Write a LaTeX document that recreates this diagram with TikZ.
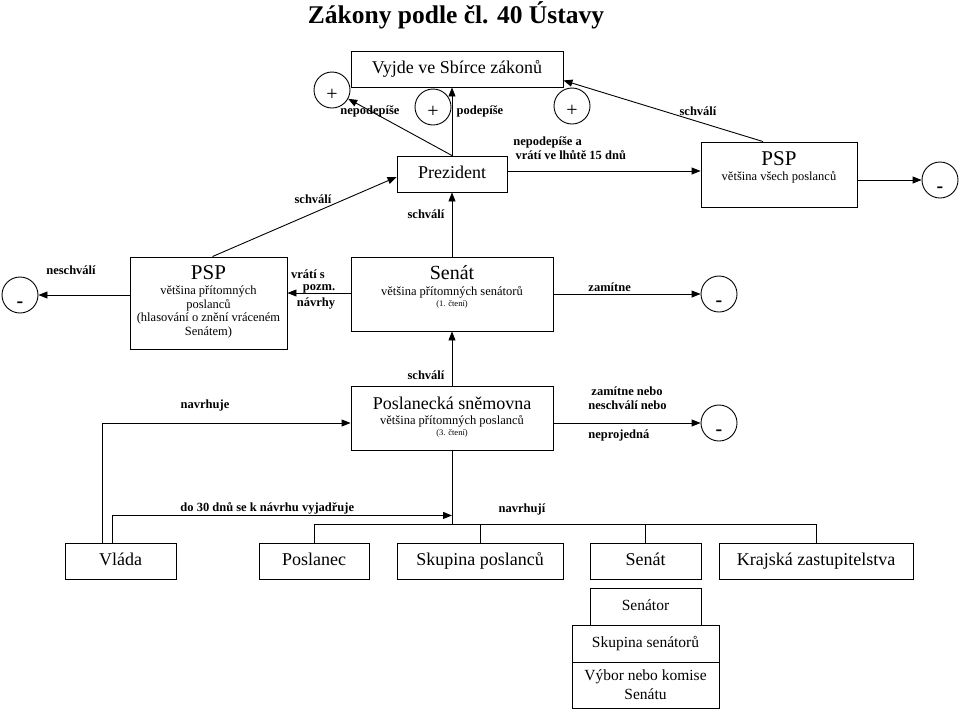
\documentclass[tikz,border=0pt]{standalone}
\usepackage{fontspec}
\setmainfont{Liberation Serif}
\usetikzlibrary{arrows.meta,calc}
\begin{document}
\begin{tikzpicture}[x=1pt,y=-1pt,line width=0.9pt,
  box/.style={draw,rectangle,inner sep=0pt,line width=0.9pt},
  big/.style={font=\fontsize{18}{20}\selectfont,text height=12.5pt,text depth=3.5pt},
  mid/.style={font=\fontsize{15.5}{18}\selectfont,text height=11pt,text depth=3pt},
  small/.style={font=\fontsize{12.5}{13.8}\selectfont,inner sep=0pt,align=center},
  tiny/.style={font=\fontsize{8.5}{10}\selectfont,inner sep=0pt},
  head/.style={font=\fontsize{21}{23}\selectfont,inner sep=0pt},
  lab/.style={font=\fontsize{12.5}{14}\selectfont\bfseries,inner sep=0pt},
  arr/.style={-{Triangle[length=9pt,width=7pt]}},
  circ/.style={draw,circle,minimum size=36pt,inner sep=0pt},
  plus/.style={font=\fontsize{20}{20}\selectfont,inner sep=0pt},
  minus/.style={font=\fontsize{20}{20}\selectfont\bfseries,inner sep=0pt}]
\useasboundingbox (0,0) rectangle (960,710);

% title
\node[font=\fontsize{25.5}{28}\selectfont\bfseries] (title) at (456,15) {Zákony podle čl. 40 Ústavy};

% boxes
\node[box,big,minimum width=212pt,minimum height=36pt] (vyjde) at (457,69) {Vyjde ve Sbírce zákonů};
\node[box,big,minimum width=110pt,minimum height=36pt] (prez) at (452,174) {Prezident};
\node[box,minimum width=156pt,minimum height=65pt] (psp2) at (779,174.5) {};
\node[head] (psp2t) at (779,159) {PSP};
\node[small] (psp2s) at (779,177) {většina všech poslanců};

\node[box,minimum width=157pt,minimum height=92pt] (pspL) at (208.5,303) {};
\node[head] (pspLt) at (208.5,273) {PSP};
\node[small] (pspLs) at (208.5,312) {většina přítomných\\poslanců\\(hlasování o znění vráceném\\Senátem)};

\node[box,minimum width=202pt,minimum height=74pt] (senat) at (452,294) {};
\node[head,font=\fontsize{20}{22}\selectfont] (senatt) at (452,273) {Senát};
\node[small] (senats) at (452,292) {většina přítomných senátorů};
\node[tiny] (senatc) at (452,304) {(1. čtení)};

\node[box,minimum width=202pt,minimum height=64pt] (pos) at (452,418) {};
\node[font=\fontsize{18}{20}\selectfont,inner sep=0pt] (post) at (452,403) {Poslanecká sněmovna};
\node[small] (poss) at (452,421) {většina přítomných poslanců};
\node[tiny] (posc) at (452,433) {(3. čtení)};

\node[box,big,minimum width=111pt,minimum height=36pt] (vlada) at (120.5,561) {Vláda};
\node[box,big,minimum width=110pt,minimum height=36pt] (posl) at (314,561) {Poslanec};
\node[box,big,minimum width=166pt,minimum height=36pt] (skup) at (480,561) {Skupina poslanců};
\node[box,big,minimum width=111pt,minimum height=36pt] (sen2) at (645.5,561) {Senát};
\node[box,big,minimum width=194pt,minimum height=36pt] (kraj) at (816,561) {Krajská zastupitelstva};

\node[box,mid,minimum width=111pt,minimum height=37pt] (senator) at (645.5,606.5) {Senátor};
\node[box,mid,minimum width=147pt,minimum height=37pt] (skups) at (645.5,643.5) {Skupina senátorů};
\node[box,minimum width=147pt,minimum height=46pt,align=center,font=\fontsize{15.5}{19}\selectfont] (vybor) at (645.5,685) {Výbor nebo komise\\Senátu};

% circles
\node[circ] (p1) at (332,90) {};
\node[circ] (p2) at (433,107) {};
\node[circ] (p3) at (572,106) {};
\node[circ] (m1) at (940,180) {};
\node[circ] (m2) at (20,295) {};
\node[circ] (m3) at (719,294) {};
\node[circ] (m4) at (719,423) {};
\node[plus] (p1s) at (332,95) {+};
\node[plus] (p2s) at (433,112) {+};
\node[plus] (p3s) at (572,111) {+};
\node[minus] (m1s) at (940,190) {-};
\node[minus] (m2s) at (20,305) {-};
\node[minus] (m3s) at (719,304) {-};
\node[minus] (m4s) at (719,433) {-};

% labels
\node[lab] (l1) at (370,111) {nepodepíše};
\node[lab] (l2) at (480,111) {podepíše};
\node[lab] (l3) at (698,111) {schválí};
\node[lab,anchor=west,align=left] (l4) at (513,148) {nepodepíše a\\ \,vrátí ve lhůtě 15 dnů};
\node[lab] (l5) at (313,199) {schválí};
\node[lab] (l6) at (426,214) {schválí};
\node[lab] (l7) at (71,270) {neschválí};
\node[lab] (l8a) at (308,274) {vrátí s};
\node[lab] (l8b) at (319,289) {pozm.};
\node[lab] (l8c) at (316,303) {návrhy};
\node[lab,anchor=west] (l9) at (588,287) {zamítne};
\node[lab] (l10) at (426,375) {schválí};
\node[lab,anchor=west] (l11a) at (591,391) {zamítne nebo};
\node[lab,anchor=west] (l11b) at (588,405) {neschválí nebo};
\node[lab,anchor=west] (l11c) at (588,435) {neprojedná};
\node[lab] (l12) at (205,405) {navrhuje};
\node[lab,anchor=west] (l13) at (180,508) {do 30 dnů se k návrhu vyjadřuje};
\node[lab] (l14) at (522,509) {navrhují};

% connectors
\draw[arr] (prez.north) -- (prez.north |- vyjde.south);
\draw[arr] (prez.north) -- (p1);
\draw[arr] ($(psp2.north)+(-16,0)$) -- ($(vyjde.south east)+(0,-7)$);
\draw[arr] ($(prez.east)+(0,-3)$) -- ($(prez.east -| psp2.west)+(0,-3)$);
\draw[arr] (psp2.east |- m1) -- (m1);
\draw[arr] ($(pspL.north)+(4,0)$) -- ($(prez.west)+(0,3)$);
\draw[arr] (senat.north) -- (prez.south);
\draw[arr] ($(senat.west)+(0,-1)$) -- ($(senat.west -| pspL.east)+(0,-1)$);
\draw[arr] (pspL.west |- m2) -- (m2);
\draw[arr] (senat.east |- m3) -- (m3);
\draw[arr] (pos.north) -- (senat.south);
\draw[arr] (pos.east |- m4) -- (m4);

\coordinate (v1) at ($(vlada.north)+(-18.5,0)$);
\coordinate (v2) at ($(vlada.north)+(-8.5,0)$);
\coordinate (jn) at ($(pos.south)+(0,65)$);
\coordinate (bus) at ($(pos.south)+(0,74)$);
\draw[arr] (v1) |- (pos.west |- m4);
\draw[arr] (v2) |- (jn);
\draw (pos.south) -- (bus);
\draw (posl.north) |- (bus) -| (kraj.north);
\draw (skup.north) -- (skup.north |- bus);
\draw (sen2.north) -- (sen2.north |- bus);
\end{tikzpicture}
\end{document}
